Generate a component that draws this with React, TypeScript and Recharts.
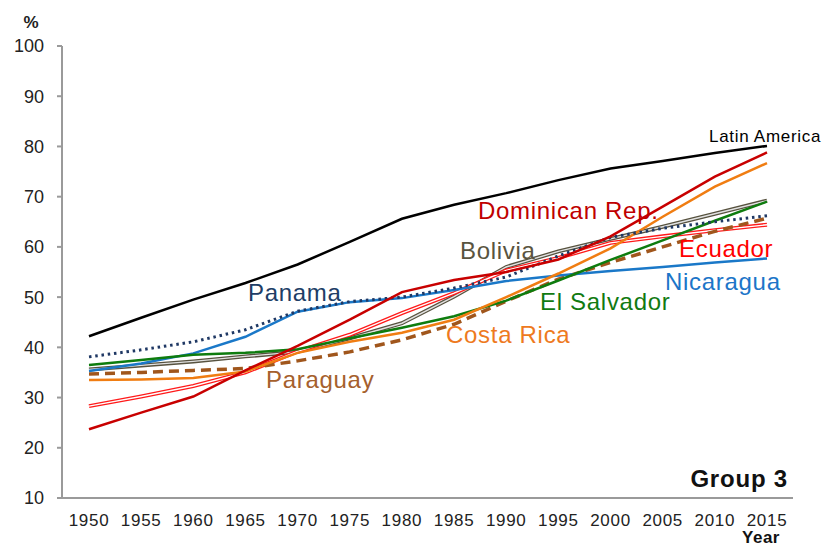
import { LineChart, Line, XAxis, YAxis } from "recharts";

// Urban population share (%)
const years = [1950, 1955, 1960, 1965, 1970, 1975, 1980, 1985, 1990, 1995, 2000, 2005, 2010, 2015];

const latinAmerica = [42.2, 45.9, 49.5, 52.8, 56.5, 61.0, 65.6, 68.4, 70.7, 73.3, 75.6, 77.1, 78.7, 80.1];
const dominicanRep = [23.7, 27.0, 30.2, 35.4, 40.3, 45.5, 51.0, 53.4, 55.0, 57.5, 62.1, 68.0, 74.0, 78.8];
const costaRica = [33.5, 33.6, 33.9, 35.2, 38.9, 41.1, 42.9, 45.5, 50.0, 54.7, 59.7, 66.0, 72.0, 76.7];
const elSalvador = [36.5, 37.5, 38.5, 38.9, 39.6, 41.8, 43.9, 46.2, 49.3, 53.3, 57.4, 61.3, 65.2, 69.0];
const bolivia = [35.6, 36.4, 37.2, 38.2, 39.1, 41.8, 44.8, 50.1, 56.0, 59.1, 61.6, 64.0, 66.6, 69.2];
const panama = [38.1, 39.5, 41.1, 43.5, 47.2, 49.1, 50.0, 51.8, 54.0, 58.2, 61.9, 63.7, 65.0, 66.2];
const paraguay = [34.7, 35.0, 35.4, 35.8, 37.3, 39.1, 41.5, 44.6, 49.2, 53.6, 56.9, 60.0, 63.1, 65.7];
const ecuador = [28.3, 30.2, 32.3, 35.0, 39.2, 42.5, 46.8, 50.8, 55.3, 57.8, 60.8, 62.1, 63.3, 64.4];
const nicaragua = [35.3, 36.8, 38.8, 42.1, 47.1, 49.0, 49.8, 51.4, 53.2, 54.3, 55.2, 56.0, 56.9, 57.7];

const yTicks = [10, 20, 30, 40, 50, 60, 70, 80, 90, 100];

const data = years.map((year, i) => ({
  year,
  latinAmerica: latinAmerica[i],
  dominicanRep: dominicanRep[i],
  costaRica: costaRica[i],
  elSalvador: elSalvador[i],
  bolivia: bolivia[i],
  panama: panama[i],
  paraguay: paraguay[i],
  ecuador: ecuador[i],
  nicaragua: nicaragua[i]
}));

const font = '"Liberation Sans", Arial, sans-serif';

// series labels drawn over the chart
const labels = [
  { text: "Latin America", x: 709, y: 142, size: 17, color: "#000000" },
  { text: "Dominican Rep.", x: 478, y: 219, size: 24, color: "#C00000" },
  { text: "Bolivia", x: 460, y: 259, size: 24, color: "#595440" },
  { text: "Ecuador", x: 679, y: 257, size: 24, color: "#FF0000" },
  { text: "Nicaragua", x: 665, y: 290, size: 24, color: "#1C75C8" },
  { text: "Panama", x: 248, y: 301, size: 24, color: "#203D66" },
  { text: "El Salvador", x: 540, y: 310, size: 24, color: "#117A11" },
  { text: "Costa Rica", x: 446, y: 343, size: 24, color: "#EE7A1E" },
  { text: "Paraguay", x: 266, y: 388, size: 24, color: "#A5602D" }
];

export default function App() {
  return (
    <div style={{ position: "absolute", left: 0, top: 0, width: 829, height: 546, background: "#fff", fontFamily: font }}>
      <LineChart width={829} height={546} data={data} margin={{ top: 46, right: 36, bottom: 8, left: 12 }}>
        <XAxis
          dataKey="year"
          type="number"
          domain={[1950, 2015]}
          ticks={years}
          padding={{ left: 27, right: 26 }}
          height={40}
          tickLine={false}
          tickSize={6}
          tickMargin={10}
          axisLine={{ stroke: "#9A9A9A", strokeWidth: 2 }}
          tick={{ fill: "#222", fontSize: 17, fontFamily: font, letterSpacing: 0.7 }}
          interval={0}
        />
        <YAxis
          domain={[10, 100]}
          ticks={yTicks}
          width={50}
          tickSize={5}
          tickMargin={13}
          axisLine={{ stroke: "#9A9A9A", strokeWidth: 2 }}
          tickLine={{ stroke: "#9A9A9A", strokeWidth: 2 }}
          tick={{ fill: "#222", fontSize: 18, fontFamily: font }}
          interval={0}
        />
        <Line dataKey="bolivia" stroke="#57523F" strokeWidth={4} dot={false} isAnimationActive={false} />
        <Line dataKey="bolivia" stroke="#E2E2E2" strokeWidth={1.4} dot={false} isAnimationActive={false} />
        <Line dataKey="ecuador" stroke="#FF1A1A" strokeWidth={4} dot={false} isAnimationActive={false} />
        <Line dataKey="ecuador" stroke="#FFFFFF" strokeWidth={1.4} dot={false} isAnimationActive={false} />
        <Line dataKey="paraguay" stroke="#A0561C" strokeWidth={3.5} strokeDasharray="10 6" dot={false} isAnimationActive={false} />
        <Line dataKey="nicaragua" stroke="#1A78C8" strokeWidth={2.5} dot={false} isAnimationActive={false} />
        <Line dataKey="elSalvador" stroke="#0E7C0E" strokeWidth={2.5} dot={false} isAnimationActive={false} />
        <Line dataKey="costaRica" stroke="#F07D12" strokeWidth={2.5} dot={false} isAnimationActive={false} />
        <Line dataKey="panama" stroke="#1F3864" strokeWidth={3} strokeDasharray="2.5 3.8" dot={false} isAnimationActive={false} />
        <Line dataKey="dominicanRep" stroke="#C80000" strokeWidth={2.5} dot={false} isAnimationActive={false} />
        <Line dataKey="latinAmerica" stroke="#000000" strokeWidth={2.5} dot={false} isAnimationActive={false} />
      </LineChart>
      <svg width={829} height={546} style={{ position: "absolute", left: 0, top: 0, pointerEvents: "none" }}>
        <text x={31} y={28} textAnchor="middle" fontSize={17} fontWeight="bold" fill="#222" fontFamily={font}>%</text>
        {labels.map((l) => (
          <text key={l.text} x={l.x} y={l.y} fontSize={l.size} fill={l.color} fontFamily={font} letterSpacing={0.7}>
            {l.text}
          </text>
        ))}
        <text x={788} y={487} textAnchor="end" fontSize={24} fontWeight="bold" fill="#111" fontFamily={font} letterSpacing={0.8}>Group 3</text>
        <text x={780} y={543} textAnchor="end" fontSize={17} fontWeight="bold" fill="#111" fontFamily={font} letterSpacing={0.5}>Year</text>
      </svg>
    </div>
  );
}
